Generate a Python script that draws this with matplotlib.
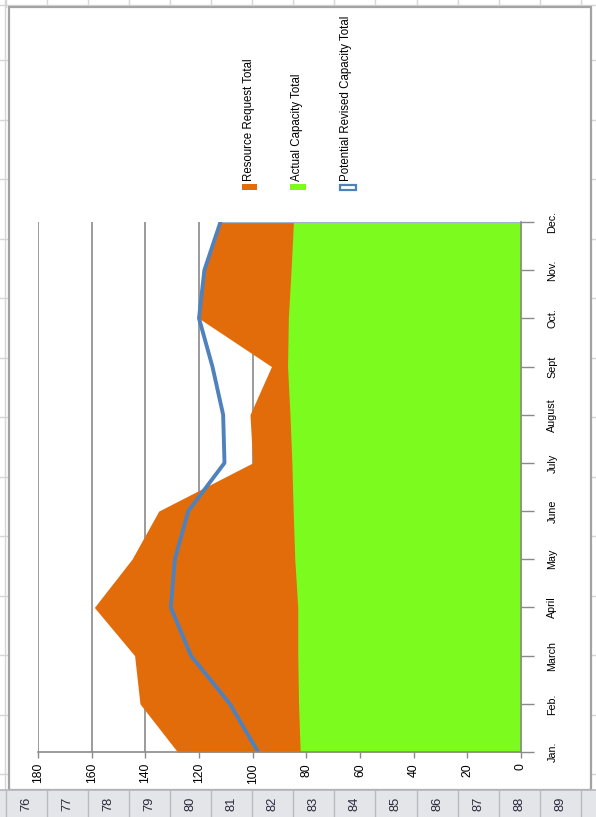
import matplotlib
matplotlib.use("Agg")
import matplotlib.pyplot as plt
from matplotlib import font_manager
from matplotlib.patches import Rectangle

# ---------------- data ----------------
months = ['Jan.', 'Feb.', 'March', 'April', 'May', 'June', 'July',
          'August', 'Sept', 'Oct.', 'Nov.', 'Dec.']
resource_request = [128, 142, 144, 159, 145, 135, 100, 101, 93, 120, 118, 112]
actual_capacity = [82.3, 82.9, 83.2, 83.2, 84.3, 84.9, 85.4, 86.1, 87, 86.7, 85.7, 84.8]
potential_revised = [98, 108.5, 123, 130.5, 129, 124, 110.5, 111, 115, 120, 118, 112]
value_ticks = [0, 20, 40, 60, 80, 100, 120, 140, 160, 180]
series_names = ['Resource Request Total', 'Actual Capacity Total',
                'Potential Revised Capacity Total']
row_numbers = [76, 77, 78, 79, 80, 81, 82, 83, 84, 85, 86, 87, 88, 89]

# ---------------- style ----------------
ORANGE = '#E36C0A'
GREEN = '#7CFC1E'
BLUE = '#4F81BD'
GRID = '#8a8a8a'
AXIS = '#8a8a8a'

names = {f.name for f in font_manager.fontManager.ttflist}
if 'Liberation Sans Narrow' in names:
    NARROW, SCALE = 'Liberation Sans Narrow', 1.0
else:
    NARROW, SCALE = 'Liberation Sans', 0.84
FAM = [NARROW, 'DejaVu Sans']

W, H = 596, 817
fig = plt.figure(figsize=(W / 100, H / 100), dpi=100)
fig.patch.set_facecolor('white')

# background (spreadsheet) axes in pixel coordinates
bg = fig.add_axes([0, 0, 1, 1], zorder=0)
bg.set_xlim(0, W)
bg.set_ylim(H, 0)
bg.axis('off')

LG = '#d6d6d6'
seps = [5.5 + 41.1 * k for k in range(16)]
cols = [60 + 59.5 * k for k in range(14)]
# top strip
bg.plot([0, W], [5, 5], color=LG, lw=1)
for x in seps:
    bg.plot([x, x], [0, 7], color=LG, lw=1)
# left / right strips
bg.plot([5, 5], [0, 790], color=LG, lw=1)
for y in cols:
    bg.plot([0, 8], [y, y], color=LG, lw=1)
    bg.plot([591, W], [y, y], color=LG, lw=1)

# chart area
bg.add_patch(Rectangle((9, 7), 582, 783, facecolor='white',
                       edgecolor='#a3a3a3', lw=1.6, zorder=2))

# row header band
bg.add_patch(Rectangle((0, 790), W, 27, facecolor='#e3e5e9',
                       edgecolor='none', zorder=3))
bg.plot([0, W], [790, 790], color='#b3b6bb', lw=1.2, zorder=4)
for x in seps:
    bg.plot([x, x], [790, H], color='#b8bbc0', lw=1, zorder=4)
for i, n in enumerate(row_numbers):
    cx = (seps[i] + seps[i + 1]) / 2
    bg.text(cx, 804, str(n), rotation=90, ha='center', va='center',
            fontsize=11 * SCALE, family=FAM, color='#2a2a3a', zorder=5)

# legend (manual, rotated)
leg_x = [249, 297, 346]
for cx, name in zip(leg_x, series_names):
    bg.text(cx, 181, name, rotation=90, ha='center', va='bottom',
            fontsize=9.9 * SCALE, family=FAM, color='black', zorder=5)
bg.add_patch(Rectangle((242, 184), 15, 6, facecolor=ORANGE, edgecolor='none', zorder=5))
bg.add_patch(Rectangle((290, 184), 16, 6, facecolor=GREEN, edgecolor='none', zorder=5))
bg.add_patch(Rectangle((340, 184.5), 16, 5.5, facecolor='white', edgecolor=BLUE,
                       lw=1.6, zorder=5))

# ---------------- chart ----------------
x0, x1 = 38, 521
y_top, y_bot = 222, 752
ax = fig.add_axes([x0 / W, 1 - y_bot / H, (x1 - x0) / W, (y_bot - y_top) / H], zorder=1)
ax.patch.set_alpha(0)

pos = list(range(len(months)))
ax.fill_betweenx(pos, 0, resource_request, color=ORANGE, lw=0, zorder=2)
ax.fill_betweenx(pos, 0, actual_capacity, color=GREEN, lw=0, zorder=3)
ax.plot([0, resource_request[-1]], [pos[-1], pos[-1]], color='#9fb3cc', lw=0.9, zorder=3.5)
ax.plot(potential_revised, pos, color=BLUE, lw=2.8, zorder=4,
        solid_joinstyle='round')

for v in value_ticks:
    ax.axvline(v, color=GRID, lw=1.2, zorder=1)

ax.set_xlim(180, 0)
ax.set_ylim(0, len(months) - 1)
ax.set_xticks(value_ticks)
ax.set_xticklabels([str(v) for v in value_ticks])
ax.set_yticks(pos)
ax.set_yticklabels(months)
ax.yaxis.tick_right()

for s in ['left', 'top']:
    ax.spines[s].set_visible(False)
for s in ['right', 'bottom']:
    ax.spines[s].set_color(AXIS)
    ax.spines[s].set_linewidth(1.2)
    ax.spines[s].set_zorder(5)

ax.tick_params(axis='x', direction='out', length=4, width=1, color=AXIS,
               pad=4, labelsize=10.5 * SCALE, labelrotation=90)
ax.tick_params(axis='y', direction='out', length=9, width=1, color=AXIS,
               pad=10, labelsize=9.2 * SCALE, labelrotation=90)
for lbl in ax.get_xticklabels():
    lbl.set_family(FAM)
for lbl in ax.get_yticklabels():
    lbl.set_family(FAM)
    lbl.set_va('center')
    lbl.set_ha('left')

fig.savefig('out.png', dpi=100, facecolor='white')
